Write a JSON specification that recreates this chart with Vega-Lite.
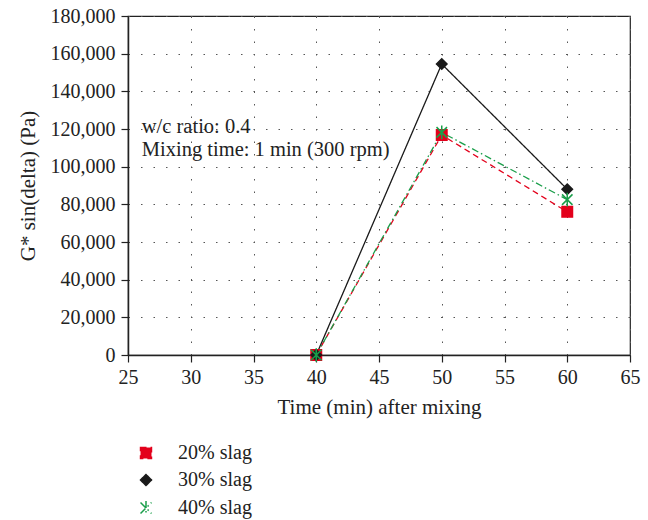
{
  "$schema": "https://vega.github.io/schema/vega-lite/v6.json",
  "autosize": "none",
  "width": 502,
  "height": 339,
  "padding": {"left": 128, "top": 16, "right": 18, "bottom": 165},
  "background": "white",
  "config": {
    "font": "Liberation Serif",
    "view": {"stroke": "#222", "strokeWidth": 1.2},
    "axis": {
      "labelFont": "Liberation Serif",
      "titleFont": "Liberation Serif",
      "labelFontSize": 20,
      "titleFontSize": 21,
      "titleFontWeight": "normal",
      "labelColor": "#222",
      "titleColor": "#222",
      "domainColor": "#222",
      "domainWidth": 1.5,
      "tickColor": "#222",
      "tickWidth": 1.2,
      "tickSize": 7,
      "gridColor": "#555",
      "gridDash": [1.5, 11],
      "gridWidth": 1,
      "labelOverlap": false,
      "labelFlush": false
    },
    "legend": {
      "labelFont": "Liberation Serif",
      "labelFontSize": 20,
      "labelColor": "#222"
    }
  },
  "data": {
    "values": [
      {"time": 40, "value": 0, "series": "20% slag"},
      {"time": 50, "value": 116800, "series": "20% slag"},
      {"time": 60, "value": 76000, "series": "20% slag"},
      {"time": 40, "value": 0, "series": "30% slag"},
      {"time": 50, "value": 154500, "series": "30% slag"},
      {"time": 60, "value": 88000, "series": "30% slag"},
      {"time": 40, "value": 0, "series": "40% slag"},
      {"time": 50, "value": 118200, "series": "40% slag"},
      {"time": 60, "value": 82500, "series": "40% slag"}
    ]
  },
  "encoding": {
    "x": {
      "field": "time", "type": "quantitative",
      "scale": {"domain": [25, 65], "nice": false},
      "axis": {"values": [25, 30, 35, 40, 45, 50, 55, 60, 65], "format": "d", "title": "Time (min) after mixing", "titlePadding": 9, "labelPadding": 5}
    },
    "y": {
      "field": "value", "type": "quantitative",
      "scale": {"domain": [0, 180000], "nice": false},
      "axis": {"values": [0, 20000, 40000, 60000, 80000, 100000, 120000, 140000, 160000, 180000], "format": ",d", "title": "G* sin(delta) (Pa)", "titlePadding": 12, "labelPadding": 6}
    }
  },
  "layer": [
    {
      "mark": {"type": "line", "strokeWidth": 1.3},
      "encoding": {
        "color": {
          "field": "series", "type": "nominal",
          "scale": {"domain": ["20% slag", "30% slag", "40% slag"], "range": ["#e3001b", "#1a1a1a", "#1a9e4a"]},
          "legend": {"title": null, "orient": "none", "legendX": 8, "legendY": 427, "rowPadding": 7, "symbolSize": 120, "labelOffset": 22, "symbolStrokeWidth": 1.5,
            "encode": {"symbols": {"update": {"strokeDash": {"value": []}}}}}
        },
        "strokeDash": {
          "field": "series", "type": "nominal",
          "scale": {"domain": ["20% slag", "30% slag", "40% slag"], "range": [[6, 4], [1, 0], [7, 3, 1.5, 3]]},
          "legend": null
        }
      }
    },
    {
      "mark": {"type": "point", "filled": false, "strokeWidth": 1.5, "opacity": 1},
      "encoding": {
        "color": {"field": "series", "type": "nominal"},
        "fill": {
          "field": "series", "type": "nominal",
          "scale": {"domain": ["20% slag", "30% slag", "40% slag"], "range": ["#e3001b", "#1a1a1a", "transparent"]},
          "legend": null
        },
        "shape": {
          "field": "series", "type": "nominal",
          "scale": {"domain": ["20% slag", "30% slag", "40% slag"], "range": ["square", "diamond", "M-1,-1L1,1M-1,1L1,-1M0,-1.3L0,1.3"]}
        },
        "size": {"value": 110}
      }
    },
    {
      "data": {"values": [
        {"time": 26.1, "value": 121000, "label": "w/c ratio: 0.4"},
        {"time": 26.1, "value": 108800, "label": "Mixing time: 1 min (300 rpm)"}
      ]},
      "mark": {"type": "text", "align": "left", "baseline": "middle", "fontSize": 20.5, "font": "Liberation Serif", "color": "#222"},
      "encoding": {
        "text": {"field": "label"}
      }
    }
  ]
}
